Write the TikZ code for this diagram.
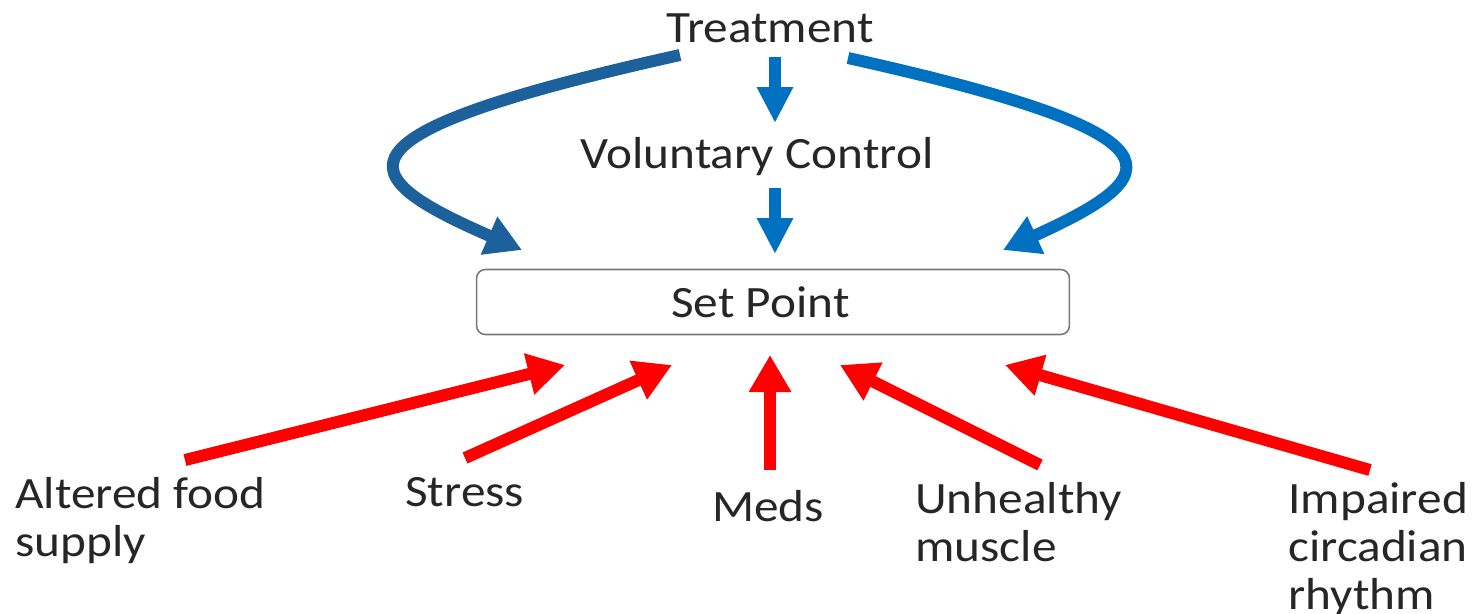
\documentclass[tikz,border=0pt]{standalone}
\usepackage{fontspec}
\setmainfont[FakeStretch=1.1]{Carlito}
\usetikzlibrary{arrows.meta}
\definecolor{txtgray}{RGB}{38,38,38}
\definecolor{boxgray}{RGB}{120,120,120}
\definecolor{ctrlblue}{RGB}{0,112,192}
\definecolor{deepblue}{RGB}{28,96,156}
\definecolor{causered}{RGB}{255,0,0}
\begin{document}
\begin{tikzpicture}[
      x=0.02cm, y=-0.02cm,
      lbl/.style={
          font=\fontsize{25.5}{27.2}\selectfont,
          text=txtgray,
          inner sep=0pt,
          align=left
        },
      setbox/.style={
          draw=boxgray,
          fill=white,
          rounded corners=5pt,
          line width=0.9pt,
          minimum width=11.86cm,
          minimum height=1.3cm,
          font=\fontsize{25.5}{27.2}\selectfont,
          text=txtgray
        },
      blueflow/.style={-{Triangle[length=0.72cm, width=0.68cm]}, ctrlblue, line width=0.24cm},
      curveflow/.style={-{Triangle[length=0.72cm, width=0.78cm]}, line width=0.24cm},
      redflow/.style={-{Triangle[length=0.74cm, width=0.8cm]}, causered, line width=0.24cm}
    ]
    \useasboundingbox (0,0) rectangle (1478,613);

    \node[lbl] (treat) at (770,28) {Treatment};
    \node[lbl] (vol) at (757,157) {Voluntary Control};
    \node[setbox] (sp) at (773,302) {\hspace*{-0.5cm}Set Point};

    \node[lbl, anchor=north west] (food) at (15,477) {Altered food\\supply};
    \node[lbl, anchor=north west] (stress) at (405,477) {Stress};
    \node[lbl, anchor=north] (meds) at (768,490) {Meds};
    \node[lbl, anchor=north west] (muscle) at (915,482) {Unhealthy\\muscle};
    \node[lbl, anchor=north west] (rhythm) at (1288,482) {Impaired\\circadian\\rhythm};

    \coordinate (tl) at (680,55);
    \coordinate (tr) at (848,58);
    \coordinate (hl) at (522,250);
    \coordinate (hr) at (1003,250);
    \coordinate (a0) at (775,57);
    \coordinate (a1) at (775,123);
    \coordinate (b0) at (775,188);
    \coordinate (b1) at (775,254);
    \draw[curveflow, deepblue] (tl) .. controls (320,135) and (350,175) .. (hl);
    \draw[curveflow, ctrlblue] (tr) .. controls (1195,135) and (1168,175) .. (hr);
    \draw[blueflow] (a0) -- (a1);
    \draw[blueflow] (b0) -- (b1);

    \coordinate (f0) at (185,460);
    \coordinate (f1) at (565,365);
    \coordinate (s0) at (465,458);
    \coordinate (s1) at (672,365);
    \coordinate (m0) at (770,470);
    \coordinate (m1) at (770,355);
    \coordinate (u0) at (1040,465);
    \coordinate (u1) at (840,365);
    \coordinate (r0) at (1370,470);
    \coordinate (r1) at (1005,365);
    \draw[redflow] (f0) -- (f1);
    \draw[redflow] (s0) -- (s1);
    \draw[redflow] (m0) -- (m1);
    \draw[redflow] (u0) -- (u1);
    \draw[redflow] (r0) -- (r1);
  \end{tikzpicture}
\end{document}
